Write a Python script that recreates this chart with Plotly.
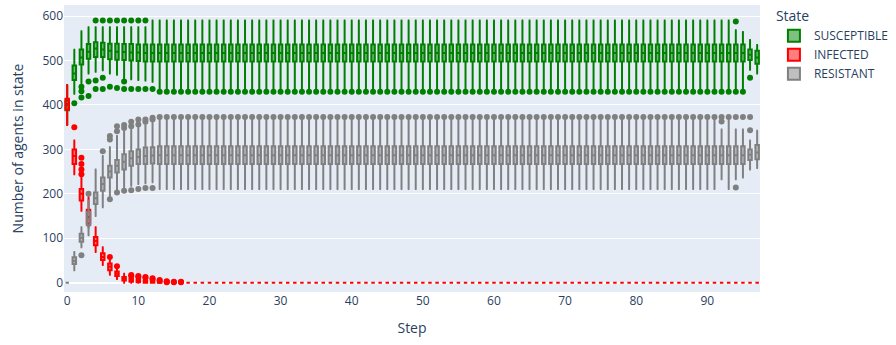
import plotly.graph_objects as go

steps = list(range(98))
state_names = ["SUSCEPTIBLE", "INFECTED", "RESISTANT"]

# ---------------- SUSCEPTIBLE ----------------
S_lower = [
    355, 425, 449, 471, 475, 478, 471, 468, 460, 458,
    456, 455, 452, 436, 436, 436, 436, 436, 436, 436,
    436, 436, 436, 436, 436, 436, 436, 436, 436, 436,
    436, 436, 436, 436, 436, 436, 436, 436, 436, 436,
    436, 436, 436, 436, 436, 436, 436, 436, 436, 436,
    436, 436, 436, 436, 436, 436, 436, 436, 436, 436,
    436, 436, 436, 436, 436, 436, 436, 436, 436, 436,
    436, 436, 436, 436, 436, 436, 436, 436, 436, 436,
    436, 436, 436, 436, 436, 436, 436, 436, 436, 436,
    436, 436, 436, 436, 436, 436, 479, 471]
S_q1 = [
    388, 456, 491, 504, 508, 508, 503, 502, 501, 500,
    499, 498, 498, 498, 498, 498, 498, 498, 498, 498,
    498, 498, 498, 498, 498, 498, 498, 498, 498, 498,
    498, 498, 498, 498, 498, 498, 498, 498, 498, 498,
    498, 498, 498, 498, 498, 498, 498, 498, 498, 498,
    498, 498, 498, 498, 498, 498, 498, 498, 498, 498,
    498, 498, 498, 498, 498, 498, 498, 498, 498, 498,
    498, 498, 498, 498, 498, 498, 498, 498, 498, 498,
    498, 498, 498, 498, 498, 498, 498, 498, 498, 498,
    498, 498, 498, 498, 498, 498, 501, 493]
S_median = [
    400, 471, 507, 520, 527, 525, 522, 520, 519, 518,
    518, 517, 517, 517, 517, 517, 517, 517, 517, 517,
    517, 517, 517, 517, 517, 517, 517, 517, 517, 517,
    517, 517, 517, 517, 517, 517, 517, 517, 517, 517,
    517, 517, 517, 517, 517, 517, 517, 517, 517, 517,
    517, 517, 517, 517, 517, 517, 517, 517, 517, 517,
    517, 517, 517, 517, 517, 517, 517, 517, 517, 517,
    517, 517, 517, 517, 517, 517, 517, 517, 517, 517,
    517, 517, 517, 517, 517, 517, 517, 517, 517, 517,
    517, 517, 517, 517, 517, 517, 513, 507]
S_q3 = [
    410, 489, 525, 537, 541, 540, 538, 538, 537, 537,
    536, 536, 536, 536, 536, 536, 536, 536, 536, 536,
    536, 536, 536, 536, 536, 536, 536, 536, 536, 536,
    536, 536, 536, 536, 536, 536, 536, 536, 536, 536,
    536, 536, 536, 536, 536, 536, 536, 536, 536, 536,
    536, 536, 536, 536, 536, 536, 536, 536, 536, 536,
    536, 536, 536, 536, 536, 536, 536, 536, 536, 536,
    536, 536, 536, 536, 536, 536, 536, 536, 536, 536,
    536, 536, 536, 536, 536, 536, 536, 536, 536, 536,
    536, 536, 536, 536, 536, 536, 525, 522]
S_upper = [
    445, 524, 566, 575, 575, 575, 575, 575, 575, 575,
    575, 575, 590, 590, 590, 590, 590, 590, 590, 590,
    590, 590, 590, 590, 590, 590, 590, 590, 590, 590,
    590, 590, 590, 590, 590, 590, 590, 590, 590, 590,
    590, 590, 590, 590, 590, 590, 590, 590, 590, 590,
    590, 590, 590, 590, 590, 590, 590, 590, 590, 590,
    590, 590, 590, 590, 590, 590, 590, 590, 590, 590,
    590, 590, 590, 590, 590, 590, 590, 590, 590, 590,
    590, 590, 590, 590, 590, 590, 590, 590, 590, 590,
    590, 590, 590, 590, 568, 564, 546, 535]
S_outliers = [
    [], [404], [441, 431, 417], [453, 420], [590, 455, 436], [590, 461, 436], [590, 441], [590, 438], [590, 453, 436], [590, 436],
    [590, 436], [590, 436], [436], [430], [430], [430], [430], [430], [430], [430],
    [430], [430], [430], [430], [430], [430], [430], [430], [430], [430],
    [430], [430], [430], [430], [430], [430], [430], [430], [430], [430],
    [430], [430], [430], [430], [430], [430], [430], [430], [430], [430],
    [430], [430], [430], [430], [430], [430], [430], [430], [430], [430],
    [430], [430], [430], [430], [430], [430], [430], [430], [430], [430],
    [430], [430], [430], [430], [430], [430], [430], [430], [430], [430],
    [430], [430], [430], [430], [430], [430], [430], [430], [430], [430],
    [430], [430], [430], [430], [588, 430], [430], [461], []]

# ---------------- INFECTED ----------------
I_lower = [
    355, 244, 162, 125, 69, 40, 18, 8, 0, 0,
    0, 0, 0, 0, 0, 0, 0, 0, 0, 0,
    0, 0, 0, 0, 0, 0, 0, 0, 0, 0,
    0, 0, 0, 0, 0, 0, 0, 0, 0, 0,
    0, 0, 0, 0, 0, 0, 0, 0, 0, 0,
    0, 0, 0, 0, 0, 0, 0, 0, 0, 0,
    0, 0, 0, 0, 0, 0, 0, 0, 0, 0,
    0, 0, 0, 0, 0, 0, 0, 0, 0, 0,
    0, 0, 0, 0, 0, 0, 0, 0, 0, 0,
    0, 0, 0, 0, 0, 0, 0, 0]
I_q1 = [
    390, 267, 185, 133, 84, 51, 28, 15, 5, 2,
    1, 0, 0, 0, 0, 0, 0, 0, 0, 0,
    0, 0, 0, 0, 0, 0, 0, 0, 0, 0,
    0, 0, 0, 0, 0, 0, 0, 0, 0, 0,
    0, 0, 0, 0, 0, 0, 0, 0, 0, 0,
    0, 0, 0, 0, 0, 0, 0, 0, 0, 0,
    0, 0, 0, 0, 0, 0, 0, 0, 0, 0,
    0, 0, 0, 0, 0, 0, 0, 0, 0, 0,
    0, 0, 0, 0, 0, 0, 0, 0, 0, 0,
    0, 0, 0, 0, 0, 0, 0, 0]
I_median = [
    402, 285, 200, 148, 94, 58, 36, 20, 9, 5,
    3, 2, 1, 0, 0, 0, 0, 0, 0, 0,
    0, 0, 0, 0, 0, 0, 0, 0, 0, 0,
    0, 0, 0, 0, 0, 0, 0, 0, 0, 0,
    0, 0, 0, 0, 0, 0, 0, 0, 0, 0,
    0, 0, 0, 0, 0, 0, 0, 0, 0, 0,
    0, 0, 0, 0, 0, 0, 0, 0, 0, 0,
    0, 0, 0, 0, 0, 0, 0, 0, 0, 0,
    0, 0, 0, 0, 0, 0, 0, 0, 0, 0,
    0, 0, 0, 0, 0, 0, 0, 0]
I_q3 = [
    414, 300, 211, 164, 103, 66, 43, 25, 13, 8,
    6, 4, 2, 1, 0, 0, 0, 0, 0, 0,
    0, 0, 0, 0, 0, 0, 0, 0, 0, 0,
    0, 0, 0, 0, 0, 0, 0, 0, 0, 0,
    0, 0, 0, 0, 0, 0, 0, 0, 0, 0,
    0, 0, 0, 0, 0, 0, 0, 0, 0, 0,
    0, 0, 0, 0, 0, 0, 0, 0, 0, 0,
    0, 0, 0, 0, 0, 0, 0, 0, 0, 0,
    0, 0, 0, 0, 0, 0, 0, 0, 0, 0,
    0, 0, 0, 0, 0, 0, 0, 0]
I_upper = [
    445, 320, 240, 192, 125, 80, 52, 32, 20, 12,
    10, 8, 5, 2, 0, 0, 0, 0, 0, 0,
    0, 0, 0, 0, 0, 0, 0, 0, 0, 0,
    0, 0, 0, 0, 0, 0, 0, 0, 0, 0,
    0, 0, 0, 0, 0, 0, 0, 0, 0, 0,
    0, 0, 0, 0, 0, 0, 0, 0, 0, 0,
    0, 0, 0, 0, 0, 0, 0, 0, 0, 0,
    0, 0, 0, 0, 0, 0, 0, 0, 0, 0,
    0, 0, 0, 0, 0, 0, 0, 0, 0, 0,
    0, 0, 0, 0, 0, 0, 0, 0]
I_outliers = [
    [], [350], [244, 255, 267, 281], [], [], [], [58], [37], [], [15, 17],
    [13, 15], [11, 13], [7, 10], [4, 6], [1, 2, 3], [1, 2], [1, 2], [], [], [],
    [], [], [], [], [], [], [], [], [], [],
    [], [], [], [], [], [], [], [], [], [],
    [], [], [], [], [], [], [], [], [], [],
    [], [], [], [], [], [], [], [], [], [],
    [], [], [], [], [], [], [], [], [], [],
    [], [], [], [], [], [], [], [], [], [],
    [], [], [], [], [], [], [], [], [], [],
    [], [], [], [], [], [], [], []]

# ---------------- RESISTANT ----------------
R_lower = [
    0, 28, 80, 107, 150, 170, 195, 205, 215, 218,
    222, 224, 226, 211, 211, 211, 211, 211, 211, 211,
    211, 211, 211, 211, 211, 211, 211, 211, 211, 211,
    211, 211, 211, 211, 211, 211, 211, 211, 211, 211,
    211, 211, 211, 211, 211, 211, 211, 211, 211, 211,
    211, 211, 211, 211, 211, 211, 211, 211, 211, 211,
    211, 211, 211, 211, 211, 211, 211, 211, 211, 211,
    211, 211, 211, 211, 211, 211, 211, 211, 211, 211,
    211, 211, 211, 211, 211, 211, 211, 211, 211, 211,
    211, 211, 233, 211, 233, 237, 255, 258]
R_q1 = [
    0, 42, 92, 129, 177, 207, 237, 248, 255, 263,
    267, 267, 268, 267, 267, 267, 267, 267, 267, 267,
    267, 267, 267, 267, 267, 267, 267, 267, 267, 267,
    267, 267, 267, 267, 267, 267, 267, 267, 267, 267,
    267, 267, 267, 267, 267, 267, 267, 267, 267, 267,
    267, 267, 267, 267, 267, 267, 267, 267, 267, 267,
    267, 267, 267, 267, 267, 267, 267, 267, 267, 267,
    267, 267, 267, 267, 267, 267, 267, 267, 267, 267,
    267, 267, 267, 267, 267, 267, 267, 267, 267, 267,
    267, 267, 267, 267, 267, 267, 276, 278]
R_median = [
    0, 49, 101, 144, 190, 222, 250, 263, 272, 280,
    283, 285, 286, 287, 287, 287, 287, 287, 287, 287,
    287, 287, 287, 287, 287, 287, 287, 287, 287, 287,
    287, 287, 287, 287, 287, 287, 287, 287, 287, 287,
    287, 287, 287, 287, 287, 287, 287, 287, 287, 287,
    287, 287, 287, 287, 287, 287, 287, 287, 287, 287,
    287, 287, 287, 287, 287, 287, 287, 287, 287, 287,
    287, 287, 287, 287, 287, 287, 287, 287, 287, 287,
    287, 287, 287, 287, 287, 287, 287, 287, 287, 287,
    287, 287, 287, 287, 287, 287, 288, 293]
R_q3 = [
    0, 57, 110, 159, 203, 237, 263, 276, 289, 296,
    300, 304, 305, 307, 307, 307, 307, 307, 307, 307,
    307, 307, 307, 307, 307, 307, 307, 307, 307, 307,
    307, 307, 307, 307, 307, 307, 307, 307, 307, 307,
    307, 307, 307, 307, 307, 307, 307, 307, 307, 307,
    307, 307, 307, 307, 307, 307, 307, 307, 307, 307,
    307, 307, 307, 307, 307, 307, 307, 307, 307, 307,
    307, 307, 307, 307, 307, 307, 307, 307, 307, 307,
    307, 307, 307, 307, 307, 307, 307, 307, 307, 307,
    307, 307, 307, 307, 307, 307, 300, 310]
R_upper = [
    0, 69, 125, 185, 255, 285, 305, 330, 340, 345,
    350, 355, 360, 367, 367, 367, 367, 367, 367, 367,
    367, 367, 367, 367, 367, 367, 367, 367, 367, 367,
    367, 367, 367, 367, 367, 367, 367, 367, 367, 367,
    367, 367, 367, 367, 367, 367, 367, 367, 367, 367,
    367, 367, 367, 367, 367, 367, 367, 367, 367, 367,
    367, 367, 367, 367, 367, 367, 367, 367, 367, 367,
    367, 367, 367, 367, 367, 367, 367, 367, 367, 367,
    367, 367, 367, 367, 367, 367, 367, 367, 367, 367,
    367, 367, 345, 367, 345, 345, 320, 342]
R_outliers = [
    [], [], [62], [200], [], [296], [322, 330, 188], [341, 352, 203], [348, 355, 207], [352, 362, 208],
    [356, 367, 211], [362, 367, 213], [367, 371, 213], [373], [373], [373], [373], [373], [373], [373],
    [373], [373], [373], [373], [373], [373], [373], [373], [373], [373],
    [373], [373], [373], [373], [373], [373], [373], [373], [373], [373],
    [373], [373], [373], [373], [373], [373], [373], [373], [373], [373],
    [373], [373], [373], [373], [373], [373], [373], [373], [373], [373],
    [373], [373], [373], [373], [373], [373], [373], [373], [373], [373],
    [373], [373], [373], [373], [373], [373], [373], [373], [373], [373],
    [373], [373], [373], [373], [373], [373], [373], [373], [373], [373],
    [373], [373], [373, 363], [373], [373, 214], [373], [373, 343], []]

colors = {"SUSCEPTIBLE": "#008000", "INFECTED": "#ff0000", "RESISTANT": "#808080"}

series = [
    ("SUSCEPTIBLE", S_lower, S_q1, S_median, S_q3, S_upper, S_outliers),
    ("INFECTED", I_lower, I_q1, I_median, I_q3, I_upper, I_outliers),
    ("RESISTANT", R_lower, R_q1, R_median, R_q3, R_upper, R_outliers),
]

for s in series:
    for arr in s[1:]:
        assert len(arr) == len(steps), (s[0], len(arr))

fig = go.Figure()
for name, lo, q1, med, q3, hi, outs in series:
    c = colors[name]
    fig.add_trace(go.Box(
        x=steps, lowerfence=lo, q1=q1, median=med, q3=q3, upperfence=hi,
        name=name, boxpoints=False,
        marker_color=c, line=dict(color=c, width=2),
    ))
for name, lo, q1, med, q3, hi, outs in series:
    c = colors[name]
    ox, oy = [], []
    for st, vals in zip(steps, outs):
        for v in vals:
            ox.append(st)
            oy.append(v)
    fig.add_trace(go.Scatter(
        x=ox, y=oy, mode="markers", showlegend=False, name=name,
        marker=dict(color=c, size=6), hoverinfo="y",
    ))

fig.update_layout(
    template="plotly",
    width=896, height=345,
    margin=dict(l=64, r=131, t=3, b=53),
    boxmode="overlay",
    legend=dict(title_text="State", x=1.02, xanchor="left", y=1.007, yanchor="top",
                tracegroupgap=0),
    xaxis=dict(title_text="Step", range=[-0.45, 97.4], dtick=10, automargin=False),
    yaxis=dict(title_text="Number of agents in state", range=[-21, 625], dtick=100,
               automargin=False),
)

fig.write_html(
    "out.html",
    config={"displayModeBar": False},
    post_script="document.body.style.margin='0';document.body.style.padding='0';",
)
